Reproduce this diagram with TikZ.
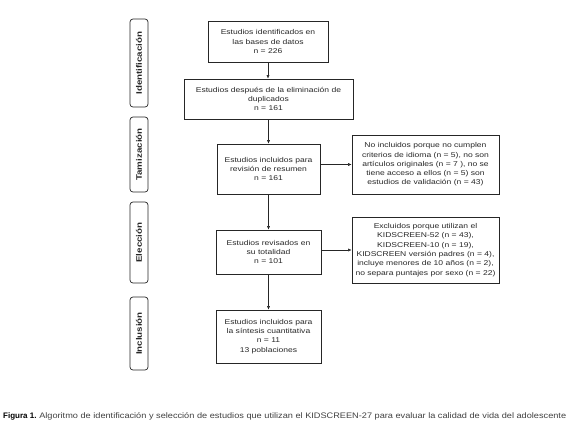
\documentclass[tikz,border=0pt]{standalone}
\usepackage{fontspec}
\setmainfont{Liberation Sans}[FakeStretch=1.22]
\newfontfamily\plainsans{Liberation Sans}
\usetikzlibrary{arrows.meta}
\begin{document}
\begin{tikzpicture}[x=1pt,y=-1pt,
 box/.style={draw=black!85, line width=0.7pt, align=center, font=\fontsize{7}{9.3}\selectfont, inner sep=0pt, text=black!85},
 phase/.style={draw=black!85, line width=0.7pt, rounded corners=3pt, inner sep=0pt, font=\bfseries\fontsize{8}{9}\selectfont, text=black!85},
 arr/.style={-{Latex[length=3.5pt,width=3pt]}, line width=0.5pt, draw=black!85},
 captext/.style={anchor=west, inner sep=0pt, font=\fontsize{8}{9}\selectfont, text=black!75}]
\useasboundingbox (0,0) rectangle (568,429);
% phases
\node[phase, rotate=90, minimum width=88pt, minimum height=18pt] (p1) at (139,63) {Identificación};
\node[phase, rotate=90, minimum width=75pt, minimum height=18pt] (p2) at (139,154.5) {Tamización};
\node[phase, rotate=90, minimum width=81pt, minimum height=18pt] (p3) at (139,242.5) {Elección};
\node[phase, rotate=90, minimum width=73pt, minimum height=18pt] (p4) at (139,333.5) {Inclusión};
% main boxes
\node[box, minimum width=120pt, minimum height=41pt] (b1) at (268,41.5) {Estudios identificados en\\las bases de datos\\n = 226};
\node[box, minimum width=169pt, minimum height=40pt] (b2) at (268.5,99) {Estudios después de la eliminación de\\duplicados\\n = 161};
\node[box, minimum width=103pt, minimum height=50pt] (b3) at (268.5,169) {Estudios incluidos para\\revisión de resumen\\n = 161};
\node[box, minimum width=105pt, minimum height=44pt] (b4) at (268.5,252) {Estudios revisados en\\su totalidad\\n = 101};
\node[box, minimum width=105pt, minimum height=53pt] (b5) at (268.5,336.5) {Estudios incluidos para\\la síntesis cuantitativa\\n = 11\\13 poblaciones};
% right boxes
\node[box, minimum width=147pt, minimum height=59pt] (r1) at (425.5,164.5) {No incluidos porque no cumplen\\criterios de idioma (n = 5), no son\\artículos originales (n = 7 ), no se\\tiene acceso a ellos (n = 5) son\\estudios de validación (n = 43)};
\node[box, minimum width=147pt, minimum height=66pt] (r2) at (425.5,250) {Excluidos porque utilizan el\\KIDSCREEN-52 (n = 43),\\KIDSCREEN-10 (n = 19),\\KIDSCREEN versión padres (n = 4),\\incluye menores de 10 años (n = 2),\\no separa puntajes por sexo (n = 22)};
% arrows
\draw[arr] (b1.south) -- (b1.south |- b2.north);
\draw[arr] (b2.south) -- (b2.south |- b3.north);
\draw[arr] (b3.south) -- (b3.south |- b4.north);
\draw[arr] (b4.south) -- (b4.south |- b5.north);
\draw[arr] (b3.east |- r1.west) -- (r1.west);
\draw[arr] (b4.east |- r2.west) -- (r2.west);
% caption
\node[captext] (caption) at (3,416.5) {{\plainsans\bfseries\color{black}Figura 1.}\ \resizebox{527pt}{\height}{Algoritmo de identificación y selección de estudios que utilizan el KIDSCREEN-27 para evaluar la calidad de vida del adolescente}};
\end{tikzpicture}
\end{document}
